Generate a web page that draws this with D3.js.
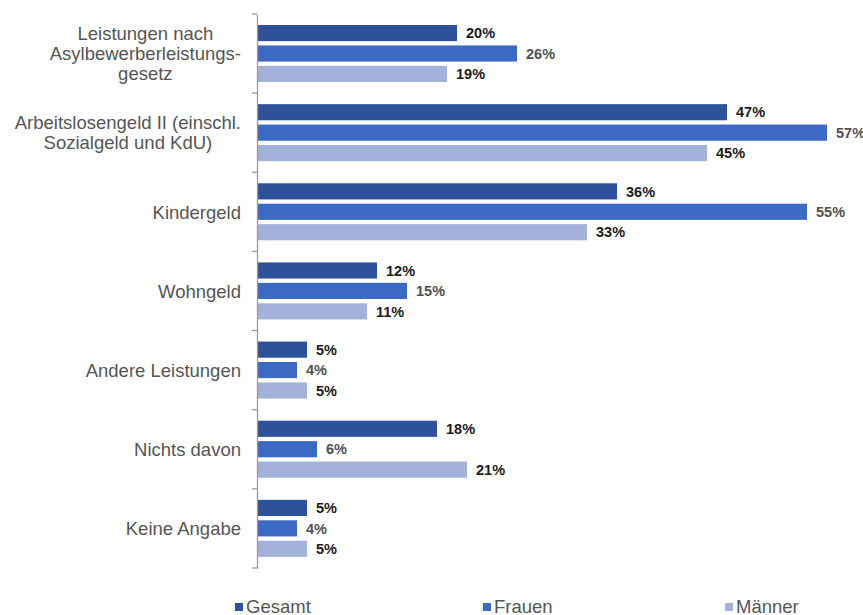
<!DOCTYPE html>
<html>
<head>
<meta charset="utf-8">
<script src="https://cdn.jsdelivr.net/npm/d3@7"></script>
<style>
html,body{margin:0;padding:0;background:#fff;}
svg{display:block;}
</style>
</head>
<body>
<svg id="chart" width="863" height="615"></svg>
<script>
const categories = [
  "Leistungen nach|Asylbewerberleistungs-|gesetz",
  "Arbeitslosengeld II (einschl.|Sozialgeld und KdU)",
  "Kindergeld",
  "Wohngeld",
  "Andere Leistungen",
  "Nichts davon",
  "Keine Angabe"
];
const series = ["Gesamt", "Frauen", "Männer"];
const gesamt = [20, 47, 36, 12, 5, 18, 5];
const frauen = [26, 57, 55, 15, 4, 6, 4];
const maenner = [19, 45, 33, 11, 5, 21, 5];
const colors = ["#2e519b", "#3b69c3", "#a3b2da"];
const labelColors = ["#1a1a1a", "#505050", "#1a1a1a"];
const valuesBySeries = [gesamt, frauen, maenner];

const svg = d3.select("#chart");
const axisX = 257;
const x = d3.scaleLinear().domain([0, 60]).range([axisX, axisX + 600]);
const y = d3.scaleBand().domain(categories).range([14, 568]).paddingInner(0).paddingOuter(0);
const ySub = d3.scaleBand().domain(series).range([11, 68]).paddingInner(0.21).paddingOuter(0);

// bars
categories.forEach((cat, ci) => {
  const g = svg.append("g").attr("transform", `translate(0,${y(cat)})`);
  series.forEach((s, si) => {
    const v = valuesBySeries[si][ci];
    g.append("rect")
      .attr("x", x(0))
      .attr("y", ySub(s))
      .attr("width", x(v) - x(0))
      .attr("height", ySub.bandwidth())
      .attr("fill", colors[si]);
    g.append("text")
      .attr("x", x(v) + 9)
      .attr("y", ySub(s) + ySub.bandwidth() / 2)
      .attr("dy", "0.36em")
      .attr("font-family", "Liberation Sans, Arial, sans-serif")
      .attr("font-weight", "bold")
      .attr("font-size", "14.5px")
      .attr("fill", labelColors[si])
      .text(v + "%");
  });
});

// axis
const axis = d3.axisLeft(y).tickSize(0).tickFormat("");
const ag = svg.append("g").attr("transform", `translate(${axisX},0)`).call(axis);
ag.select(".domain").attr("stroke", "#9a9a9a").attr("stroke-width", 1.3);
const boundaries = categories.map(c => y(c)).concat([y.range()[1]]);
ag.selectAll(".bound").data(boundaries).enter().append("line")
  .attr("x1", -5).attr("x2", 0)
  .attr("y1", d => d).attr("y2", d => d)
  .attr("stroke", "#9a9a9a").attr("stroke-width", 1.3);

// category labels
const lineH = 20;
categories.forEach(cat => {
  const lines = cat.split("|");
  const cy = y(cat) + y.bandwidth() / 2;
  const t = svg.append("text")
    .attr("font-family", "Liberation Sans, Arial, sans-serif")
    .attr("font-size", "18.5px")
    .attr("fill", "#555")
    .attr("text-anchor", "middle");
  lines.forEach((ln, i) => {
    t.append("tspan").attr("x", 0)
      .attr("y", cy + (i - (lines.length - 1) / 2) * lineH)
      .attr("dy", "0.36em")
      .text(ln);
  });
  const bb = t.node().getBBox();
  t.selectAll("tspan").attr("x", 241 - bb.width / 2);
});

// legend
const legendX = [235, 483, 725];
series.forEach((s, si) => {
  svg.append("rect")
    .attr("x", legendX[si]).attr("y", 603)
    .attr("width", 8).attr("height", 8)
    .attr("fill", colors[si]);
  svg.append("text")
    .attr("x", legendX[si] + 11).attr("y", 613)
    .attr("font-family", "Liberation Sans, Arial, sans-serif")
    .attr("font-size", "18.5px")
    .attr("fill", "#555")
    .text(s);
});
</script>
</body>
</html>
